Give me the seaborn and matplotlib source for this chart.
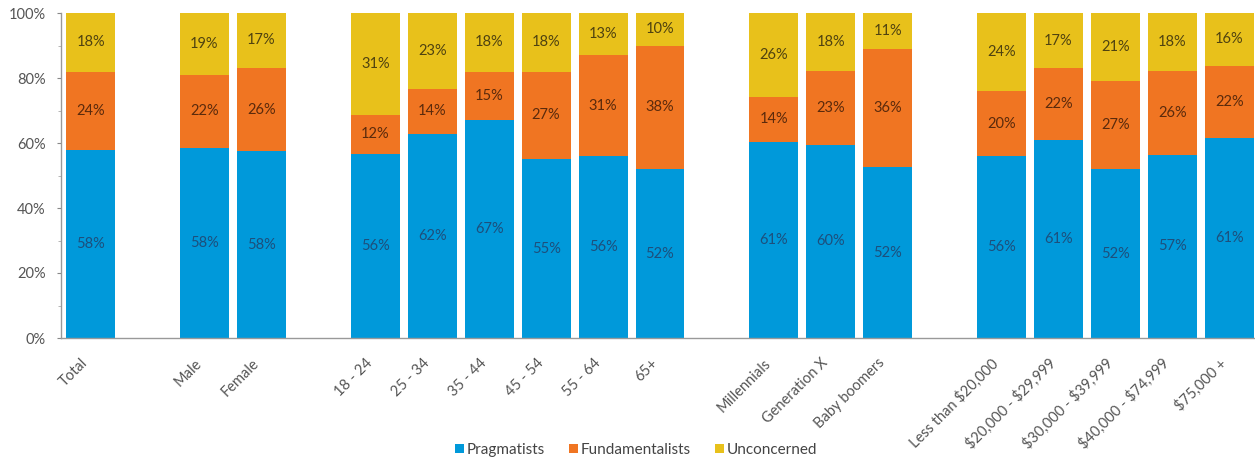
import numpy as np
import pandas as pd
import matplotlib
matplotlib.use("Agg")
import matplotlib.pyplot as plt
import seaborn as sns
from matplotlib.patches import Patch
from matplotlib.ticker import MultipleLocator, FuncFormatter

# ---------------- data ----------------
categories = ["Total",
              "Male", "Female",
              "18 - 24", "25 - 34", "35 - 44", "45 - 54", "55 - 64", "65+",
              "Millennials", "Generation X", "Baby boomers",
              "Less than $20,000", "$20,000 - $29,999", "$30,000 - $39,999",
              "$40,000 - $74,999", "$75,000 +"]
group_sizes = [1, 2, 6, 3, 5]
series_names = ["Pragmatists", "Fundamentalists", "Unconcerned"]
pragmatists = [58, 58, 58, 56, 62, 67, 55, 56, 52, 61, 60, 52, 56, 61, 52, 57, 61]
fundamentalists = [24, 22, 26, 12, 14, 15, 27, 31, 38, 14, 23, 36, 20, 22, 27, 26, 22]
unconcerned = [18, 19, 17, 31, 23, 18, 18, 13, 10, 26, 18, 11, 24, 17, 21, 18, 16]
y_ticks = [0, 20, 40, 60, 80, 100]

colors = {"Pragmatists": "#0099da", "Fundamentalists": "#f07522", "Unconcerned": "#e8c11b"}
text_colors = {"Pragmatists": "#1d4f7c", "Fundamentalists": "#5a2a0c", "Unconcerned": "#4f4210"}

# ------------- build order with gaps between groups -------------
order = []
idx = 0
for g, n in enumerate(group_sizes):
    order.extend(categories[idx:idx + n])
    idx += n
    if g < len(group_sizes) - 1:
        order.append(" " * (g + 1))

vals = pd.DataFrame({"category": categories,
                     "Pragmatists": pragmatists,
                     "Fundamentalists": fundamentalists,
                     "Unconcerned": unconcerned})
tot = vals[series_names].sum(axis=1)
shares = vals[series_names].div(tot, axis=0) * 100
vals["cum_P"] = shares["Pragmatists"]
vals["cum_F"] = shares["Pragmatists"] + shares["Fundamentalists"]
vals["cum_U"] = vals["cum_F"] + shares["Unconcerned"]

# ---------------- plot ----------------
sns.set_style("white")
plt.rcParams["font.family"] = ["Lato", "DejaVu Sans"]
plt.rcParams["text.parse_math"] = False

fig = plt.figure(figsize=(12.55, 4.61), dpi=100)
ax = fig.add_axes([61 / 1255, 1 - 338 / 461, 1 - 61 / 1255, (338 - 13) / 461])

bw = 0.86
for col, name in [("cum_U", "Unconcerned"), ("cum_F", "Fundamentalists"), ("cum_P", "Pragmatists")]:
    sns.barplot(data=vals, x="category", y=col, order=order, color=colors[name],
                saturation=1, width=bw, ax=ax, linewidth=0, errorbar=None)

# value labels in segment centres
for i, row in vals.iterrows():
    x = order.index(row["category"])
    bottoms = [0, row["cum_P"], row["cum_F"]]
    tops = [row["cum_P"], row["cum_F"], row["cum_U"]]
    raw = [row["Pragmatists"], row["Fundamentalists"], row["Unconcerned"]]
    for name, b, t, v in zip(series_names, bottoms, tops, raw):
        ax.text(x, (b + t) / 2, f"{v}%", ha="center", va="center",
                fontsize=10.5, color=text_colors[name])

ax.set_xlim(-0.52, len(order) - 1 + 0.45)
ax.set_ylim(0, 100)
ax.set_xlabel("")
ax.set_ylabel("")

ax.set_yticks(y_ticks)
ax.yaxis.set_major_formatter(FuncFormatter(lambda v, p: f"{int(v)}%"))
ax.yaxis.set_minor_locator(MultipleLocator(10))
ax.tick_params(axis="y", which="major", length=3, width=0.8, color="#888888",
               labelsize=10.5, labelcolor="#555555", pad=8, left=True)
ax.tick_params(axis="y", which="minor", length=2, width=0.6, color="#aaaaaa", left=True)

ax.set_xticks(range(len(order)))
ax.set_xticklabels([c if c.strip() else "" for c in order], rotation=45,
                   ha="right", va="top", fontsize=10.5, color="#555555")
ax.tick_params(axis="x", length=0, pad=13)

for s in ["top", "right"]:
    ax.spines[s].set_visible(False)
for s in ["left", "bottom"]:
    ax.spines[s].set_color("#999999")
    ax.spines[s].set_linewidth(1.0)

handles = [Patch(facecolor=colors[n], edgecolor="none", label=n) for n in series_names]
fig.legend(handles=handles, loc="center", bbox_to_anchor=(636 / 1255, 1 - 450 / 461),
           ncol=3, frameon=False, fontsize=11, handlelength=0.6, handleheight=0.6,
           handletextpad=0.15, columnspacing=1.6, labelcolor="#444444")

fig.savefig("out.png", dpi=100)
